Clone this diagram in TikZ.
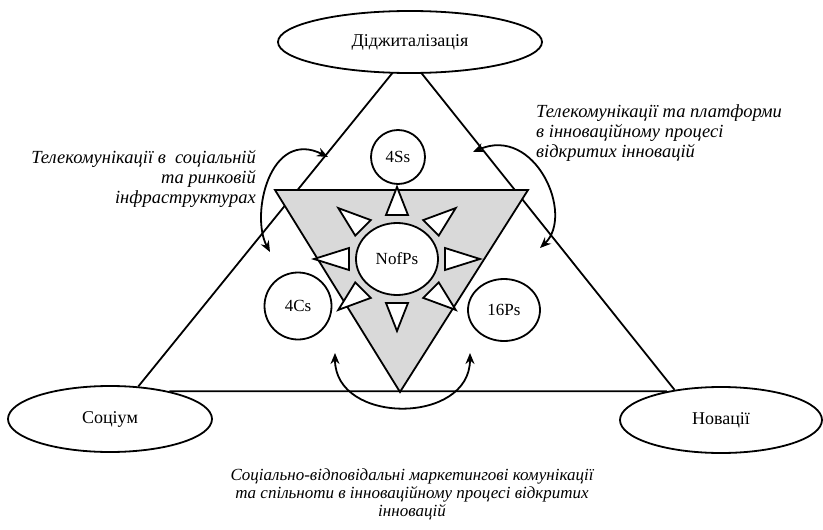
\documentclass[tikz,border=0pt]{standalone}
\usepackage{fontspec}
\setmainfont{Liberation Serif}
\usetikzlibrary{shapes.geometric,arrows.meta,backgrounds}
\begin{document}
\begin{tikzpicture}[
    x=1pt, y=-1pt,
    rim/.style={line width=1.8pt},
    oval/.style={ellipse, draw, rim, fill=white, inner sep=0pt, font=\fontsize{17}{20}\selectfont},
    pole/.style={oval, font=\fontsize{18}{21}\selectfont},
    note/.style={inner sep=0pt, font=\fontsize{18.5}{20}\selectfont\itshape},
    petal/.style={draw, rim, fill=white},
    swing/.style={rim, {Stealth[length=11pt,width=9pt]}-{Stealth[length=11pt,width=9pt]}}
]
    \useasboundingbox (0,0) rectangle (823,530);
    % grey core
    \coordinate (g1) at (275,190);
    \coordinate (g2) at (528,190);
    \coordinate (g3) at (400,392);
    \draw[rim, fill=gray!30] (g1) -- (g2) -- (g3) -- cycle;

    \node[pole, minimum width=264pt, minimum height=62pt] (dig) at (410,42) {Діджиталізація};
    \node[pole, minimum width=204pt, minimum height=66pt] (soc) at (110,419) {Соціум};
    \node[pole, minimum width=202pt, minimum height=66pt] (nov) at (721,420) {Новації};

    \node[oval, minimum width=54pt, minimum height=54pt] (fourS) at (398,157) {4Ss};
    \node[oval, minimum width=82pt, minimum height=72pt] (nofps) at (397,259) {NofPs};
    \node[oval, minimum width=67pt, minimum height=67pt] (fourC) at (298,306) {4Cs};
    \node[oval, minimum width=72pt, minimum height=62pt] (sixteenP) at (504,310) {16Ps};

    % rays round NofPs
    \foreach \a in {0,45,...,315}
        \draw[petal] ({397+48*cos(\a)+11*sin(\a)},{259-44*sin(\a)+11*cos(\a)})
            -- ({397+48*cos(\a)-11*sin(\a)},{259-44*sin(\a)-11*cos(\a)})
            -- ({397+83*cos(\a)},{259-72*sin(\a)}) -- cycle;

    % curved arrows
    \coordinate (l1) at (328,157);
    \coordinate (l2) at (270,252);
    \coordinate (r1) at (473,152);
    \coordinate (r2) at (540,248);
    \coordinate (b1) at (335,353);
    \coordinate (b2) at (470,353);
    \draw[swing] (l1) .. controls (270,128) and (250,215) .. (l2);
    \draw[swing] (r1) .. controls (535,125) and (575,215) .. (r2);
    \draw[swing] (b1) .. controls (335,425) and (470,425) .. (b2);

    \node[note, anchor=east, align=right] (soclbl) at (256,179)
        {Телекомунікації в\ \ соціальній\\та ринковій\\інфраструктурах};
    \node[note, anchor=west, align=left] (platlbl) at (536,133)
        {Телекомунікації та платформи\\в інноваційному процесі\\відкритих інновацій};
    \node[note, align=center, font=\fontsize{17}{18}\selectfont\itshape] (commlbl) at (412,494)
        {Соціально-відповідальні маркетингові комунікації\\та спільноти в інноваційному процесі відкритих\\інновацій};

    \begin{pgfonlayer}{background}
        \coordinate (apex) at (407,55);
        \draw[rim] (soc.49) -- (apex) -- (nov.147);
        \draw[rim] (soc.25) -- (nov.152);
    \end{pgfonlayer}
\end{tikzpicture}
\end{document}
